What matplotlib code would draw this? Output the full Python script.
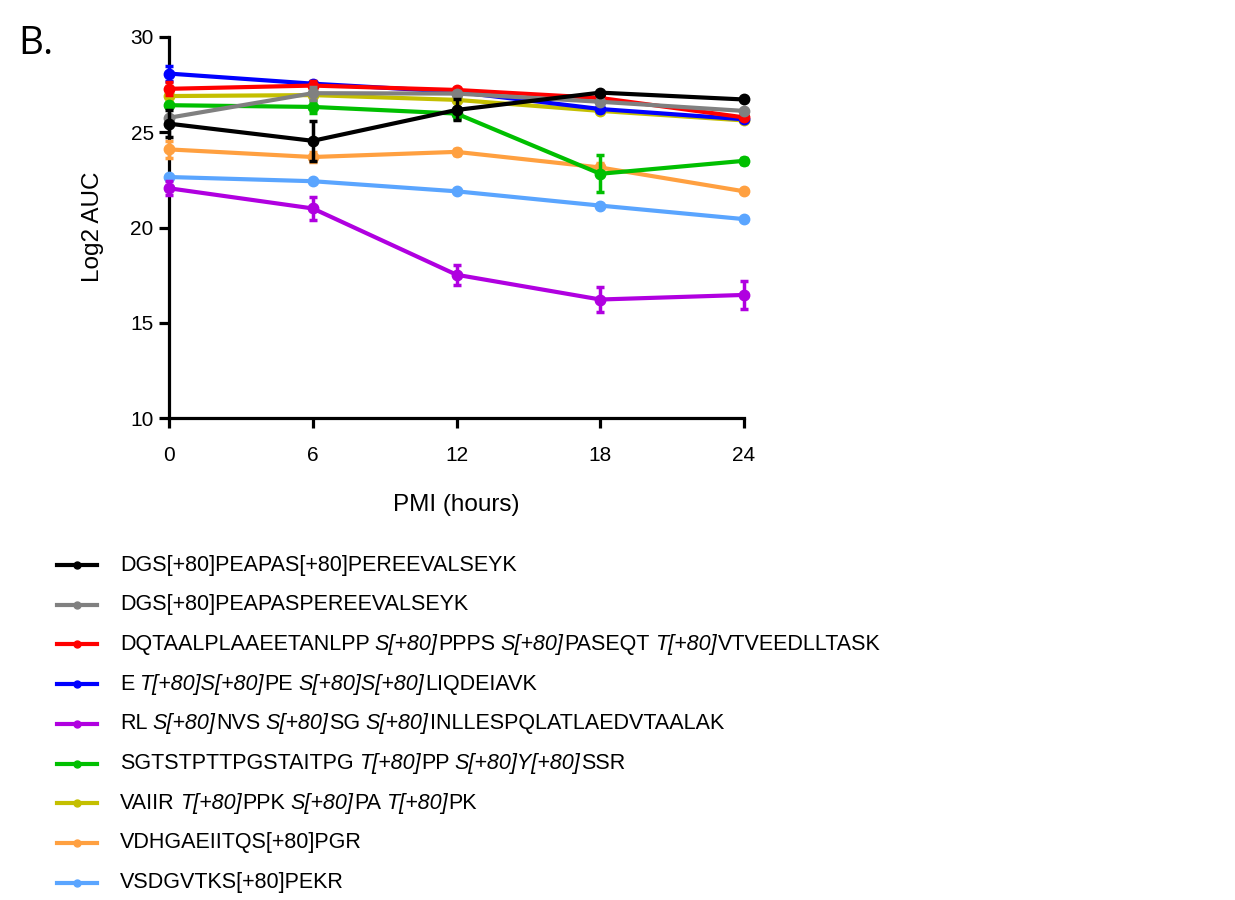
"""Log2 AUC of phosphopeptides over post-mortem interval"""

import matplotlib
matplotlib.use('Agg')
from matplotlib import pyplot as plt
from matplotlib.lines import Line2D

plt.rcParams['font.family'] = ['Liberation Sans', 'DejaVu Sans']

pmi_hours = [0, 6, 12, 18, 24]

# labels: text between * is drawn in italics
peptides = [
    'DGS[+80]PEAPAS[+80]PEREEVALSEYK',
    'DGS[+80]PEAPASPEREEVALSEYK',
    'DQTAALPLAAEETANLPP*S[+80]*PPPS*S[+80]*PASEQT*T[+80]*VTVEEDLLTASK',
    'E*T[+80]S[+80]*PE*S[+80]S[+80]*LIQDEIAVK',
    'RL*S[+80]*NVS*S[+80]*SG*S[+80]*INLLESPQLATLAEDVTAALAK',
    'SGTSTPTTPGSTAITPG*T[+80]*PP*S[+80]Y[+80]*SSR',
    'VAIIR*T[+80]*PPK*S[+80]*PA*T[+80]*PK',
    'VDHGAEIITQS[+80]PGR',
    'VSDGVTKS[+80]PEKR',
]

colors = ['#000000', '#808080', '#ff0000', '#0000ff', '#b000e0',
          '#00bf00', '#c4bf00', '#ffa040', '#5aa5ff']

auc_black = [25.45, 24.55, 26.17, 27.08, 26.72]
auc_gray = [25.76, 27.05, 27.03, 26.60, 26.12]
auc_red = [27.28, 27.45, 27.22, 26.80, 25.78]
auc_blue = [28.08, 27.55, 27.12, 26.22, 25.68]
auc_purple = [22.06, 21.00, 17.52, 16.22, 16.46]
auc_green = [26.42, 26.33, 25.98, 22.82, 23.50]
auc_yellow = [26.90, 26.95, 26.70, 26.12, 25.62]
auc_orange = [24.10, 23.70, 23.97, 23.15, 21.90]
auc_lightblue = [22.65, 22.43, 21.90, 21.15, 20.44]

sem_black = [0.72, 1.05, 0.55, 0.05, 0.0]
sem_gray = [0.05, 0.35, 0.10, 0.10, 0.05]
sem_red = [0.35, 0.25, 0.10, 0.10, 0.10]
sem_blue = [0.40, 0.05, 0.05, 0.15, 0.05]
sem_purple = [0.38, 0.60, 0.52, 0.66, 0.75]
sem_green = [0.10, 0.30, 0.30, 0.98, 0.15]
sem_yellow = [0.05, 0.05, 0.05, 0.05, 0.05]
sem_orange = [0.45, 0.25, 0.15, 0.25, 0.0]
sem_lightblue = [0.0, 0.0, 0.0, 0.0, 0.0]

all_auc = [auc_black, auc_gray, auc_red, auc_blue, auc_purple,
           auc_green, auc_yellow, auc_orange, auc_lightblue]
all_sem = [sem_black, sem_gray, sem_red, sem_blue, sem_purple,
           sem_green, sem_yellow, sem_orange, sem_lightblue]

W, H = 1235, 900
fig = plt.figure(figsize=(W / 100, H / 100), dpi=100)
ax = fig.add_axes([169 / W, 1 - 418 / H, 575 / W, 381 / H])

# first series drawn on top
n = len(all_auc)
for i in range(n - 1, -1, -1):
    line, caps, bars = ax.errorbar(pmi_hours, all_auc[i], yerr=all_sem[i],
                                   color=colors[i], lw=3, marker='o', ms=7.5,
                                   capsize=3, capthick=2.5, elinewidth=2.5,
                                   zorder=10 + n - i)
    line.set_clip_on(False)
    for a in list(caps) + list(bars):
        a.set_clip_on(False)

ax.set_xlim(0, 24)
ax.set_ylim(10, 30)
ax.set_xticks(pmi_hours)
ax.set_yticks([10, 15, 20, 25, 30])
for s in ['top', 'right']:
    ax.spines[s].set_visible(False)
for s in ['left', 'bottom']:
    ax.spines[s].set_linewidth(2.3)
ax.tick_params(axis='both', direction='out', length=7, width=2.3,
               labelsize=15, color='black')
ax.tick_params(axis='x', pad=13)
ax.tick_params(axis='y', pad=4)

fig.text(93 / W, 1 - 227 / H, 'Log2 AUC', rotation=90, fontsize=17.5,
         ha='center', va='center')
fig.text(456 / W, 1 - 505 / H, 'PMI (hours)', fontsize=17.5,
         ha='center', va='center')
fig.text(18 / W, 1 - 44 / H, 'B.', fontsize=28, family='Open Sans',
         ha='left', va='center')

# hand-built legend
renderer = fig.canvas.get_renderer()
row_top, row_step = 565, 39.7
for i, label in enumerate(peptides):
    y = 1 - (row_top + i * row_step) / H
    fig.add_artist(Line2D([57 / W, 97 / W], [y, y], color=colors[i], lw=3,
                          transform=fig.transFigure))
    fig.add_artist(Line2D([77 / W], [y], color=colors[i], marker='o', ms=5,
                          transform=fig.transFigure))
    x = 120
    for k, piece in enumerate(label.split('*')):
        if not piece:
            continue
        italic = k % 2 == 1
        if italic:
            x += 5
        t = fig.text(x / W, y, piece, fontsize=15.5,
                     style='italic' if italic else 'normal',
                     ha='left', va='center')
        x += t.get_window_extent(renderer).width
        if italic:
            x += 1

fig.savefig('out.png', dpi=100)
